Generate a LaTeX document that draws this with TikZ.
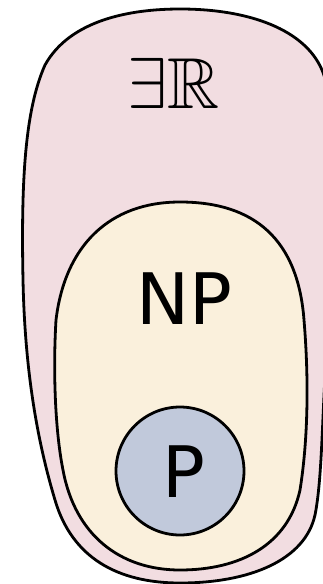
\documentclass[tikz,border=0pt]{standalone}
\usepackage{amssymb}
\usepackage{fontspec}
\newfontfamily\dejavu{DejaVu Sans}
\definecolor{erpink}{RGB}{242,221,225}
\definecolor{npcream}{RGB}{250,240,220}
\definecolor{pblue}{RGB}{193,201,219}
\begin{document}
\begin{tikzpicture}[x=1pt,y=-1pt,
  region/.style={draw=black, line width=2.8pt, line join=round},
  label/.style={inner sep=0pt, text=black}]
\clip (0,0) rectangle (323,584);
% outer region (ER)
\draw[region, fill=erpink]
  (180,9) .. controls (250,9) and (305,30) .. (322,70)
  .. controls (336,100) and (336,250) .. (326,360)
  .. controls (322,420) and (322,480) .. (315,515)
  .. controls (305,560) and (250,583) .. (180,583)
  .. controls (118,583) and (72,558) .. (55,500)
  .. controls (40,450) and (25,380) .. (23,280)
  .. controls (21,180) and (25,110) .. (45,65)
  .. controls (70,20) and (130,9) .. (180,9) -- cycle;
% NP region
\draw[region, fill=npcream]
  (180,202) .. controls (255,202) and (298,240) .. (304,320)
  .. controls (309,380) and (308,440) .. (300,490)
  .. controls (288,545) and (240,570) .. (180,570)
  .. controls (120,570) and (75,535) .. (63,470)
  .. controls (55,430) and (53,370) .. (56,320)
  .. controls (65,245) and (110,202) .. (180,202) -- cycle;
% P region
\node[circle, region, fill=pblue, minimum size=128pt, inner sep=0pt] (pc) at (180,471) {};
% labels
\node[label, scale=2.9] (er) at (174,83) {\Huge$\exists\mathbb{R}$};
\node[label, font=\dejavu\fontsize{71}{71}\selectfont] (np) at (184,299) {NP};
\node[label, font=\dejavu\fontsize{71}{71}\selectfont] (p) at (184,472) {P};
\end{tikzpicture}
\end{document}
